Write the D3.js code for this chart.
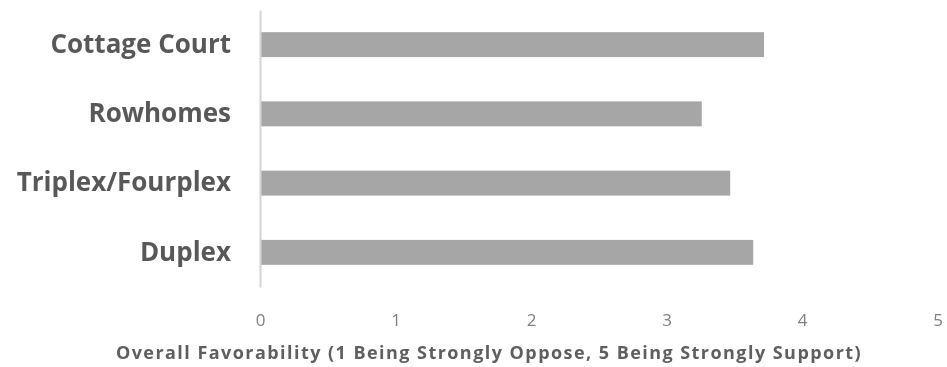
<!DOCTYPE html>
<html>
<head>
<meta charset="utf-8">
<script src="https://cdn.jsdelivr.net/npm/d3@7"></script>
<style>
  html, body { margin: 0; padding: 0; background: #fff; }
  svg { display: block; }
</style>
</head>
<body>
<svg id="chart" width="947" height="367"></svg>
<script>
// Housing types and their average favorability score (1–5 scale)
const categories = ["Cottage Court", "Rowhomes", "Triplex/Fourplex", "Duplex"];
const favorability = [3.72, 3.26, 3.47, 3.64];
const tickValues = [0, 1, 2, 3, 4, 5];
const axisTitle = "Overall Favorability (1 Being Strongly Oppose, 5 Being Strongly Support)";

const svg = d3.select("#chart");
const font = "'Open Sans', sans-serif";

// slight softening of the whole drawing
svg.append("defs").append("filter").attr("id", "soft")
  .append("feGaussianBlur").attr("stdDeviation", 0.55);
const root = svg.append("g").attr("filter", "url(#soft)");

const x = d3.scaleLinear().domain([0, 5]).range([260, 937.5]);
const y = d3.scaleBand().domain(categories).range([10, 287])
  .paddingInner(0.64).paddingOuter(0.32);

// bars
root.append("g").selectAll("rect")
  .data(categories.map((c, i) => ({ c, v: favorability[i] })))
  .join("rect")
  .attr("x", x(0))
  .attr("y", d => y(d.c))
  .attr("width", d => x(d.v) - x(0))
  .attr("height", y.bandwidth())
  .attr("fill", "#a6a6a6");

// vertical category axis
const yAxis = root.append("g")
  .attr("transform", `translate(${x(0)},0)`)
  .call(d3.axisLeft(y).tickSize(0).tickPadding(29));
yAxis.select(".domain").attr("stroke", "#d4d4d4").attr("stroke-width", 2);
yAxis.selectAll("text")
  .attr("font-family", font)
  .attr("font-weight", "bold")
  .attr("font-size", 26)
  .attr("fill", "#595959");

// value axis (labels only)
const xAxis = root.append("g")
  .attr("transform", "translate(0,301)")
  .call(d3.axisBottom(x).tickValues(tickValues).tickSize(0).tickPadding(13)
    .tickFormat(d3.format("d")));
xAxis.select(".domain").remove();
xAxis.selectAll("text")
  .attr("font-family", font)
  .attr("font-size", 17)
  .attr("fill", "#808080");

root.append("text")
  .attr("x", 489)
  .attr("y", 359)
  .attr("text-anchor", "middle")
  .attr("font-family", font)
  .attr("font-weight", "bold")
  .attr("font-size", 18)
  .attr("letter-spacing", 1.45)
  .attr("fill", "#5f5f5f")
  .text(axisTitle);
</script>
</body>
</html>
